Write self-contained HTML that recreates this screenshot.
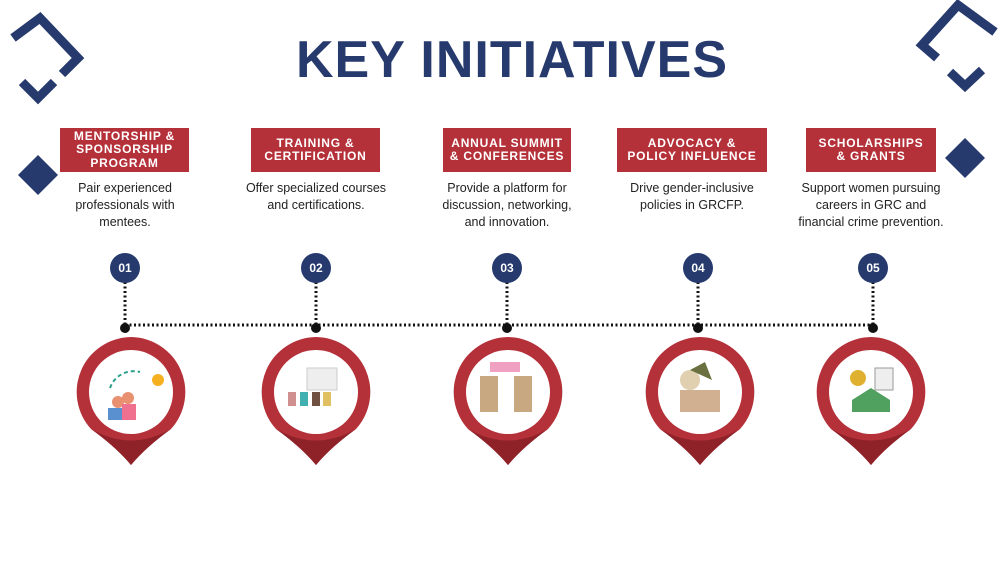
<!DOCTYPE html>
<html><head><meta charset="utf-8"><style>
body{margin:0;width:1000px;height:562px;background:#fff;overflow:hidden;position:relative;font-family:"Liberation Sans",sans-serif}
.t{position:absolute;top:30px;left:0;width:1024px;text-align:center;font-weight:bold;font-size:52px;color:#263a6e;letter-spacing:1px}
.box{position:absolute;top:128px;height:44px;background:#b5313a;color:#fff;font-weight:bold;font-size:12px;letter-spacing:0.8px;line-height:13.5px;display:flex;align-items:center;justify-content:center;text-align:center}
.d{position:absolute;top:180px;width:150px;text-align:center;font-size:12.5px;line-height:17px;color:#222}
</style></head><body>
<svg width="1000" height="562" style="position:absolute;left:0;top:0">
<g fill="none" stroke="#263a6e" stroke-width="9">
<path d="M13,38 L40,18 L78,58 L62,74"/><path d="M22,82 L38,98 L54,82"/>
<path d="M995,32 L958,5 L922,45 L937,58"/><path d="M950,72 L965,86 L982,70"/>
</g>
<g fill="#263a6e"><path d="M38,155 L58,175 L38,195 L18,175Z"/><path d="M965,138 L985,158 L965,178 L945,158Z"/></g>
<g stroke="#111" stroke-width="3" stroke-dasharray="2,2.5" fill="none">
<path d="M125,325 H873"/><path d="M125,282 V325 M316,282 V325 M507,282 V325 M698,282 V325 M873,282 V325"/>
</g>
<g fill="#111"><circle cx="125" cy="328" r="5"/><circle cx="316" cy="328" r="5"/><circle cx="507" cy="328" r="5"/><circle cx="698" cy="328" r="5"/><circle cx="873" cy="328" r="5"/></g>
<g font-family="Liberation Sans" font-weight="bold" font-size="12" fill="#fff" text-anchor="middle">
<circle cx="125" cy="268" r="15" fill="#263a6e"/><text x="125" y="272">01</text>
<circle cx="316" cy="268" r="15" fill="#263a6e"/><text x="316" y="272">02</text>
<circle cx="507" cy="268" r="15" fill="#263a6e"/><text x="507" y="272">03</text>
<circle cx="698" cy="268" r="15" fill="#263a6e"/><text x="698" y="272">04</text>
<circle cx="873" cy="268" r="15" fill="#263a6e"/><text x="873" y="272">05</text>
</g>
<defs><g id="pin"><path d="M0,-55 A55,55 0 0 1 40,37 Q15,55 0,73 Q-15,55 -40,37 A55,55 0 0 1 0,-55Z" fill="#b5313a"/><path d="M-40,37 Q-15,55 0,73 Q15,55 40,37 Q0,60 -40,37Z" fill="#8e2228"/><circle cx="0" cy="0" r="42" fill="#fff"/></g></defs>
<use href="#pin" x="131" y="392"/><use href="#pin" x="316" y="392"/><use href="#pin" x="508" y="392"/><use href="#pin" x="700" y="392"/><use href="#pin" x="871" y="392"/>
<g><path d="M110,388 A25,25 0 0 1 140,372" fill="none" stroke="#2aa08a" stroke-width="2" stroke-dasharray="4,3"/><circle cx="118" cy="402" r="6" fill="#e89070"/><rect x="108" y="408" width="14" height="12" fill="#5a90d0"/><circle cx="128" cy="398" r="6" fill="#e89070"/><rect x="122" y="404" width="14" height="16" fill="#f07090"/><circle cx="158" cy="380" r="6" fill="#f5b020"/>
<rect x="307" y="368" width="30" height="22" fill="#eee" stroke="#ccc"/><rect x="288" y="392" width="8" height="14" fill="#d09090"/><rect x="300" y="392" width="8" height="14" fill="#40b0b0"/><rect x="312" y="392" width="8" height="14" fill="#705040"/><rect x="323" y="392" width="8" height="14" fill="#e0c060"/>
<rect x="490" y="362" width="30" height="10" fill="#f0a0c0"/><rect x="480" y="376" width="18" height="36" fill="#c8a880"/><rect x="514" y="376" width="18" height="36" fill="#c8a880"/>
<circle cx="690" cy="380" r="10" fill="#e0d0b0"/><rect x="680" y="390" width="40" height="22" fill="#d0b090"/><path d="M690,370 L705,362 L712,380Z" fill="#6a7040"/>
<circle cx="858" cy="378" r="8" fill="#e0b030"/><rect x="875" y="368" width="18" height="22" fill="#eee" stroke="#999"/><path d="M852,400 L871,388 L890,400 V412 H852Z" fill="#50a060"/></g>
</svg>
<div class="t">KEY INITIATIVES</div>
<div class="box" style="left:60px;width:129px">MENTORSHIP &amp;<br>SPONSORSHIP<br>PROGRAM</div>
<div class="box" style="left:251px;width:129px">TRAINING &amp;<br>CERTIFICATION</div>
<div class="box" style="left:443px;width:128px">ANNUAL SUMMIT<br>&amp; CONFERENCES</div>
<div class="box" style="left:617px;width:150px">ADVOCACY &amp;<br>POLICY INFLUENCE</div>
<div class="box" style="left:806px;width:130px">SCHOLARSHIPS<br>&amp; GRANTS</div>
<div class="d" style="left:50px">Pair experienced professionals with mentees.</div>
<div class="d" style="left:241px">Offer specialized courses and certifications.</div>
<div class="d" style="left:432px">Provide a platform for discussion, networking, and innovation.</div>
<div class="d" style="left:617px">Drive gender-inclusive policies in GRCFP.</div>
<div class="d" style="left:796px">Support women pursuing careers in GRC and financial crime prevention.</div>
</body></html>
